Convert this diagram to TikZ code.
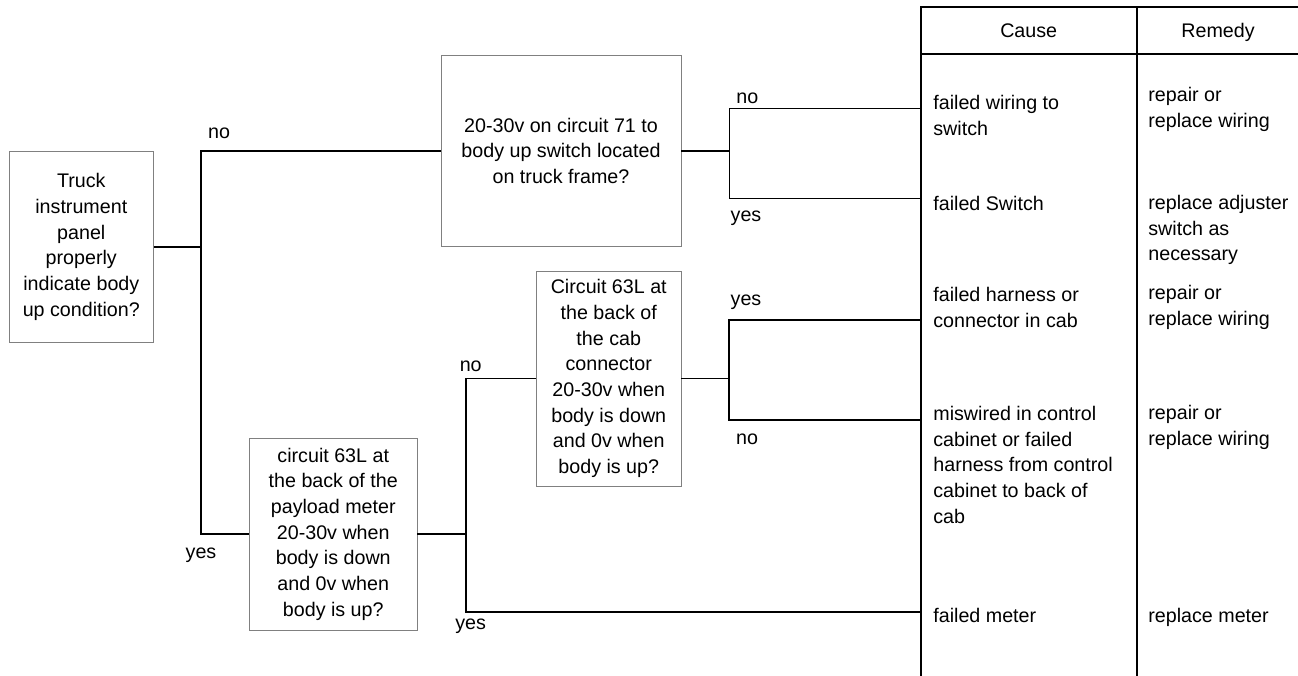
\documentclass[tikz,border=0pt]{standalone}
\usepackage{fontspec}
\setmainfont{Liberation Sans}
\usepackage{tikz}
\definecolor{boxgray}{HTML}{808080}

\begin{document}
\begin{tikzpicture}[
    font=\fontsize{11.2pt}{14.6pt}\selectfont,
    question/.style={draw=boxgray, line width=0.55pt, align=center, inner sep=0pt},
    cell/.style={anchor=north west, align=left, inner sep=0pt},
    branch/.style={anchor=base, inner sep=0pt},
    wire/.style={line width=1.1pt},
    rule/.style={line width=1.1pt}
]
\useasboundingbox (0,0) rectangle (25.96,-13.52);

\node[question, minimum width=2.88cm, minimum height=3.81cm] (truck) at (1.626,-4.94) {Truck\\instrument\\panel\\properly\\indicate body\\up condition?};
\node[question, minimum width=4.8cm, minimum height=3.83cm] (switchq) at (11.22,-3.017) {20-30v on circuit 71 to\\body up switch located\\on truck frame?};
\node[question, minimum width=3.35cm, minimum height=3.84cm] (payloadq) at (6.665,-10.68) {circuit 63L at\\the back of the\\payload meter\\20-30v when\\body is down\\and 0v when\\body is up?};
\node[question, minimum width=2.89cm, minimum height=4.3cm] (cabq) at (12.175,-7.57) {Circuit 63L at\\the back of\\the cab\\connector\\20-30v when\\body is down\\and 0v when\\body is up?};

% table
\draw[rule] (18.414,-13.52) -- (18.414,-0.14) -- (25.96,-0.14);
\draw[rule] (18.414,-1.08) -- (25.96,-1.08);
\draw[rule] (22.734,-13.52) -- (22.734,-0.14);
\node[branch] (causehead) at (20.574,-0.75) {Cause};
\node[branch] (remedyhead) at (24.36,-0.75) {Remedy};

\node[cell] (wiring) at (18.66,-1.90) {failed wiring to\\switch};
\node[cell] (switch) at (18.66,-3.91) {failed Switch};
\node[cell] (harness) at (18.66,-5.74) {failed harness or\\connector in cab};
\node[cell] (miswired) at (18.66,-8.12) {miswired in control\\cabinet or failed\\harness from control\\cabinet to back of\\cab};
\node[cell] (meter) at (18.66,-12.16) {failed meter};

\node[cell] (rewire) at (22.96,-1.74) {repair or\\replace wiring};
\node[cell] (adjuster) at (22.96,-3.90) {replace adjuster\\switch as\\necessary};
\node[cell] (rewirecab) at (22.96,-5.70) {repair or\\replace wiring};
\node[cell] (rewirecabinet) at (22.96,-8.10) {repair or\\replace wiring};
\node[cell] (newmeter) at (22.96,-12.16) {replace meter};

% ends of the branches on the table
\coordinate (wiringin) at (18.414,-2.17);
\coordinate (switchin) at (18.414,-3.97);
\coordinate (harnessin) at (18.414,-6.40);
\coordinate (miswiredin) at (18.414,-8.40);
\coordinate (meterin) at (18.414,-12.24);

\coordinate (split1) at (4.02,0);
\coordinate (split2) at (14.59,0);
\coordinate (split3) at (14.58,0);
\coordinate (split4) at (9.314,0);

\draw[wire] (truck.east) -- (truck.east -| split1);
\draw[wire] (switchq.west) -| (split1 |- payloadq.west) -- (payloadq.west);
\draw[wire] (switchq.east) -- (switchq.east -| split2);
\draw[wire] (wiringin) -| (split2 |- switchin) -- (switchin);
\draw[wire] (cabq.east) -- (cabq.east -| split3);
\draw[wire] (harnessin) -| (split3 |- miswiredin) -- (miswiredin);
\draw[wire] (payloadq.east) -- (payloadq.east -| split4);
\draw[wire] (cabq.west) -| (split4 |- meterin) -- (meterin);

\node[branch] (no1) at (4.38,-2.78) {no};
\node[branch] (yes1) at (4.02,-11.166) {yes};
\node[branch] (no2) at (14.946,-2.066) {no};
\node[branch] (yes2) at (14.92,-4.434) {yes};
\node[branch] (yes3) at (14.92,-6.12) {yes};
\node[branch] (no3) at (14.94,-8.886) {no};
\node[branch] (no4) at (9.414,-7.44) {no};
\node[branch] (yes4) at (9.414,-12.586) {yes};
\end{tikzpicture}
\end{document}
